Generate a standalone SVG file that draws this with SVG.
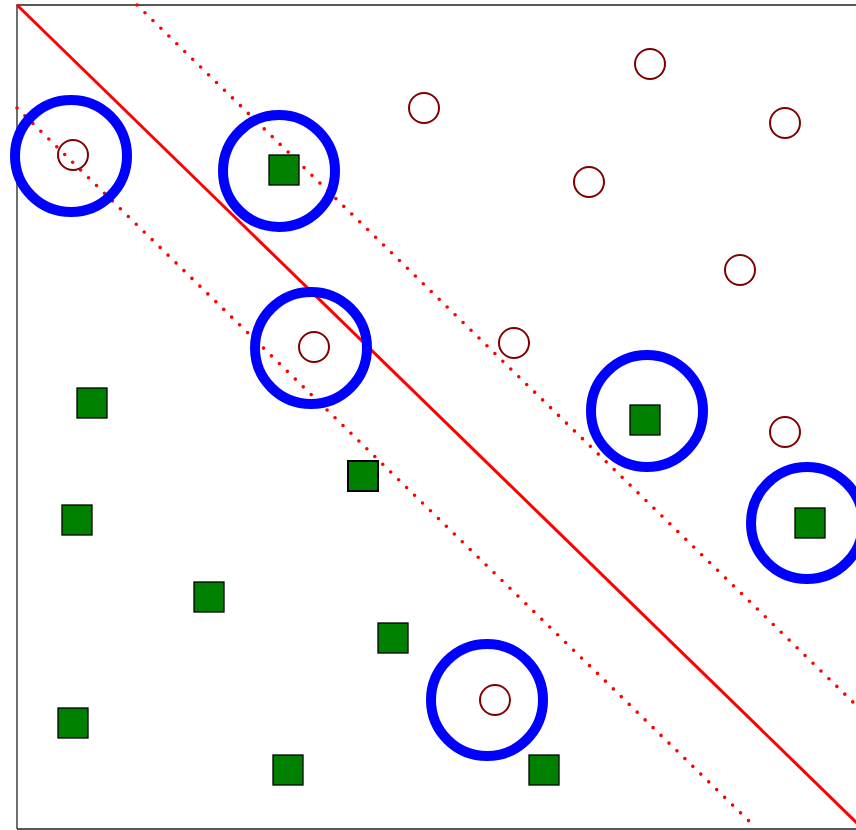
<svg xmlns="http://www.w3.org/2000/svg" width="856" height="830" viewBox="0 0 856 830">
<style>
.frame{fill:none;stroke:#222;stroke-width:1.3}
.pos{fill:none;stroke:#800000;stroke-width:2}
.neg{fill:#008000;stroke:#000;stroke-width:1.3}
.sv{fill:none;stroke:#0000ff;stroke-width:10}
.hyper{stroke:#ff0000;stroke-width:3;fill:none}
.margin{stroke:#ff0000;stroke-width:3.6;fill:none;stroke-dasharray:0 11.1;stroke-linecap:round}
</style>
<rect width="856" height="830" fill="#fff"/>
<path class="frame" d="M17,829 L17,5 L860,5 M17,829 L860,829"/>
<g id="connectors">
<line class="hyper" x1="17" y1="5" x2="858" y2="824"/>
<line class="margin" x1="137" y1="5" x2="858" y2="707"/>
<line class="margin" x1="17" y1="108" x2="752" y2="824"/>
</g>
<g id="positives">
<circle id="p1" class="pos" cx="73" cy="155" r="15"/>
<circle id="p2" class="pos" cx="424" cy="108" r="15"/>
<circle id="p3" class="pos" cx="650" cy="64" r="15"/>
<circle id="p4" class="pos" cx="785" cy="123" r="15"/>
<circle id="p5" class="pos" cx="589" cy="182" r="15"/>
<circle id="p6" class="pos" cx="740" cy="270" r="15"/>
<circle id="p7" class="pos" cx="514" cy="343" r="15"/>
<circle id="p8" class="pos" cx="314" cy="347" r="15"/>
<circle id="p9" class="pos" cx="785" cy="432" r="15"/>
<circle id="p10" class="pos" cx="495" cy="700" r="15"/>
</g>
<g id="negatives">
<rect id="n1" class="neg" x="269" y="155" width="30" height="30"/>
<rect id="n2" class="neg" x="77" y="388" width="30" height="30"/>
<rect id="n3" class="neg" x="348" y="461" width="30" height="30" style="stroke-width:2"/>
<rect id="n4" class="neg" x="62" y="505" width="30" height="30"/>
<rect id="n5" class="neg" x="630" y="405" width="30" height="30"/>
<rect id="n6" class="neg" x="795" y="508" width="30" height="30"/>
<rect id="n7" class="neg" x="194" y="582" width="30" height="30"/>
<rect id="n8" class="neg" x="378" y="623" width="30" height="30"/>
<rect id="n9" class="neg" x="58" y="708" width="30" height="30"/>
<rect id="n10" class="neg" x="273" y="755" width="30" height="30"/>
<rect id="n11" class="neg" x="529" y="755" width="30" height="30"/>
</g>
<g id="support-vectors">
<circle id="sv1" class="sv" cx="71" cy="156" r="56"/>
<circle id="sv2" class="sv" cx="279" cy="171" r="56"/>
<circle id="sv3" class="sv" cx="311" cy="348" r="56"/>
<circle id="sv4" class="sv" cx="647" cy="411" r="56"/>
<circle id="sv5" class="sv" cx="807" cy="523" r="56"/>
<circle id="sv6" class="sv" cx="487" cy="700" r="56"/>
</g>
</svg>
